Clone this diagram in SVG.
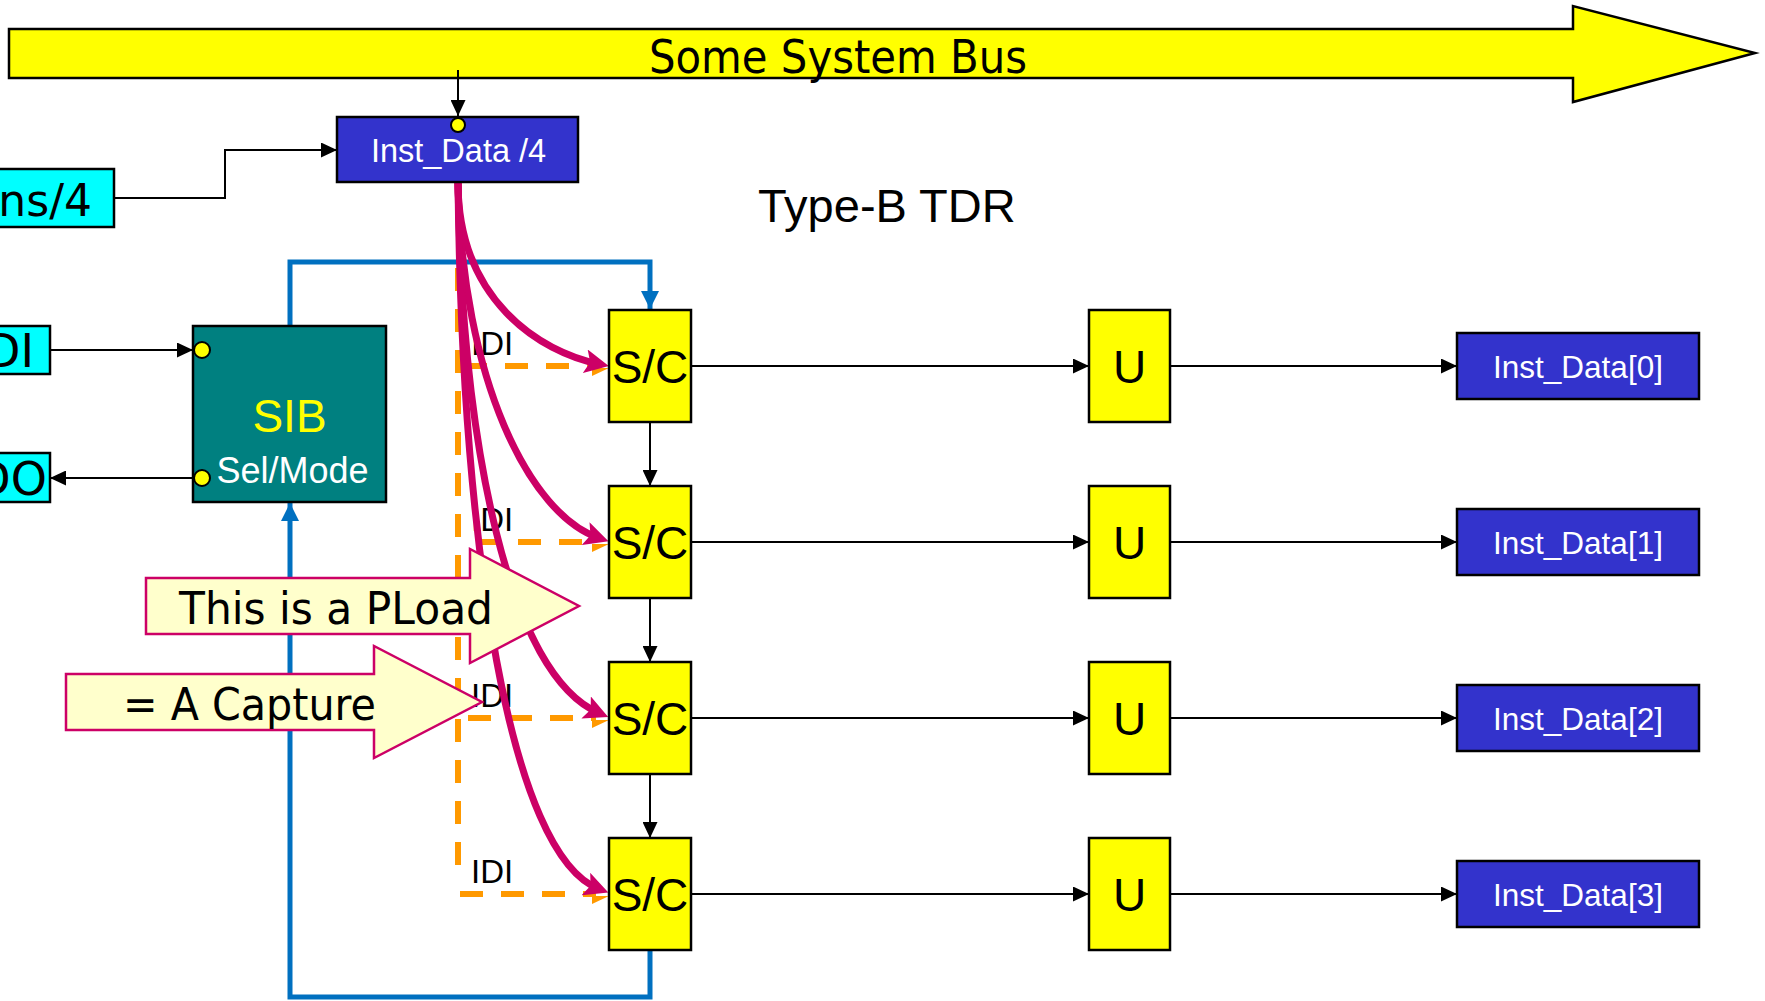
<svg xmlns="http://www.w3.org/2000/svg" width="1765" height="1001" viewBox="0 0 1765 1001">
<style>
.box{stroke:#000;stroke-width:2.5}
.ar{font-family:"Liberation Sans",Arial,sans-serif}
.th{font-family:"DejaVu Sans",Verdana,sans-serif}
.blk{fill:none;stroke:#000;stroke-width:2}
.blu{fill:none;stroke:#0070C0;stroke-width:5}
.mag{fill:none;stroke:#CC0066;stroke-width:7}
.org{fill:none;stroke:#FF9900;stroke-width:6;stroke-dasharray:23 18}
.call{fill:#FFFFCC;stroke:#CC0066;stroke-width:2.5}
.pin{fill:#FFFF00;stroke:#000;stroke-width:2}
</style>
<defs>
<marker id="ab" markerUnits="userSpaceOnUse" viewBox="0 0 16 15" refX="16" refY="7.5" markerWidth="16" markerHeight="15" orient="auto"><path d="M0,0 L16,7.5 L0,15 z" fill="#000"/></marker>
<marker id="abl" markerUnits="userSpaceOnUse" viewBox="0 0 18 18" refX="18" refY="9" markerWidth="18" markerHeight="18" orient="auto"><path d="M0,0 L18,9 L0,18 z" fill="#0070C0"/></marker>
<marker id="am" markerUnits="userSpaceOnUse" viewBox="0 0 24 24" refX="14" refY="12" markerWidth="24" markerHeight="24" orient="auto"><path d="M0,0 L24,12 L0,24 L5,12 z" fill="#CC0066"/></marker>
<marker id="ao" markerUnits="userSpaceOnUse" viewBox="0 0 16 14" refX="16" refY="7" markerWidth="16" markerHeight="14" orient="auto"><path d="M0,0 L16,7 L0,14 z" fill="#FF9900"/></marker>
</defs>
<rect width="1765" height="1001" fill="#fff"/>

<g id="bus">
<polygon points="9,29 1573,29 1573,6 1755,53 1573,102 1573,78 9,78" fill="#FFFF00" stroke="#000" stroke-width="2.5"/>
<text class="th" x="649" y="73" font-size="47" textLength="378" lengthAdjust="spacingAndGlyphs">Some System Bus</text>
</g>

<g id="title"><text class="ar" x="758" y="222" font-size="47">Type-B TDR</text></g>

<g id="connectors">
<path class="blk" d="M458,70 V116" marker-end="url(#ab)"/>
<path class="blk" d="M114,198 H225 V150 H337" marker-end="url(#ab)"/>
<path class="blk" d="M50,350 H193" marker-end="url(#ab)"/>
<path class="blk" d="M193,478 H50" marker-end="url(#ab)"/>
<path class="blu" d="M290,326 V262 H650 V309" marker-end="url(#abl)"/>
<path class="blu" d="M650,950 V997 H290 V503" marker-end="url(#abl)"/>
<path class="blk" d="M650,422 V486" marker-end="url(#ab)"/>
<path class="blk" d="M650,598 V662" marker-end="url(#ab)"/>
<path class="blk" d="M650,774 V838" marker-end="url(#ab)"/>
<path class="blk" d="M691,366 H1089" marker-end="url(#ab)"/>
<path class="blk" d="M691,542 H1089" marker-end="url(#ab)"/>
<path class="blk" d="M691,718 H1089" marker-end="url(#ab)"/>
<path class="blk" d="M691,894 H1089" marker-end="url(#ab)"/>
<path class="blk" d="M1170,366 H1457" marker-end="url(#ab)"/>
<path class="blk" d="M1170,542 H1457" marker-end="url(#ab)"/>
<path class="blk" d="M1170,718 H1457" marker-end="url(#ab)"/>
<path class="blk" d="M1170,894 H1457" marker-end="url(#ab)"/>
<path class="org" d="M458,268 V880"/>
<path class="org" d="M464,366 H596" stroke-dashoffset="0"/>
<path class="org" d="M477,542 H596"/>
<path class="org" d="M468,718 H596"/>
<path class="org" d="M460,894 H596"/>
<g fill="#FF9900">
<path d="M592,368 L609,368 L592,376 z"/>
<path d="M592,544 L609,544 L592,552 z"/>
<path d="M592,720 L609,720 L592,728 z"/>
<path d="M592,896 L609,896 L592,904 z"/>
</g>
<g class="ar" font-size="33" fill="#000">
<text x="471" y="355">IDI</text>
<text x="471" y="531">IDI</text>
<text x="471" y="707">IDI</text>
<text x="471" y="883">IDI</text>
</g>
<path class="mag" d="M458,182 C458,300 540,352 599,364" marker-end="url(#am)"/>
<path class="mag" d="M458,182 C462,380 530,515 599,538" marker-end="url(#am)"/>
<path class="mag" d="M458,182 C462,450 510,675 599,713" marker-end="url(#am)"/>
<path class="mag" d="M458,182 C462,550 510,855 599,889" marker-end="url(#am)"/>
</g>

<g id="ins4">
<rect x="-10" y="169" width="124" height="58" fill="#00FFFF" class="box"/>
<text class="th" x="92" y="216" font-size="44" text-anchor="end">ns/4</text>
</g>
<g id="tdi">
<rect x="-10" y="326" width="60" height="48" fill="#00FFFF" class="box"/>
<text class="th" x="34" y="367" font-size="46" text-anchor="end">DI</text>
</g>
<g id="tdo">
<rect x="-10" y="453" width="60" height="49" fill="#00FFFF" class="box"/>
<text class="th" x="47" y="495" font-size="46" text-anchor="end">DO</text>
</g>

<g id="inst_data4">
<rect x="337" y="117" width="241" height="65" fill="#3333CC" class="box"/>
<text class="ar" x="458.5" y="162" font-size="32.5" fill="#fff" text-anchor="middle">Inst_Data /4</text>
<circle class="pin" cx="458" cy="125" r="7"/>
</g>

<g id="sib">
<rect x="193" y="326" width="193" height="176" fill="#008080" class="box"/>
<text class="ar" x="289.5" y="432" font-size="46" fill="#FFFF00" text-anchor="middle">SIB</text>
<text class="ar" x="292.5" y="483" font-size="36" fill="#fff" text-anchor="middle">Sel/Mode</text>
<circle class="pin" cx="202" cy="350" r="8"/>
<circle class="pin" cx="202" cy="478" r="8"/>
</g>

<g id="sc0"><rect x="609" y="310" width="82" height="112" fill="#FFFF00" class="box"/><text class="ar" x="650" y="383" font-size="46" text-anchor="middle">S/C</text></g>
<g id="sc1"><rect x="609" y="486" width="82" height="112" fill="#FFFF00" class="box"/><text class="ar" x="650" y="559" font-size="46" text-anchor="middle">S/C</text></g>
<g id="sc2"><rect x="609" y="662" width="82" height="112" fill="#FFFF00" class="box"/><text class="ar" x="650" y="735" font-size="46" text-anchor="middle">S/C</text></g>
<g id="sc3"><rect x="609" y="838" width="82" height="112" fill="#FFFF00" class="box"/><text class="ar" x="650" y="911" font-size="46" text-anchor="middle">S/C</text></g>

<g id="u0"><rect x="1089" y="310" width="81" height="112" fill="#FFFF00" class="box"/><text class="ar" x="1129.5" y="383" font-size="46" text-anchor="middle">U</text></g>
<g id="u1"><rect x="1089" y="486" width="81" height="112" fill="#FFFF00" class="box"/><text class="ar" x="1129.5" y="559" font-size="46" text-anchor="middle">U</text></g>
<g id="u2"><rect x="1089" y="662" width="81" height="112" fill="#FFFF00" class="box"/><text class="ar" x="1129.5" y="735" font-size="46" text-anchor="middle">U</text></g>
<g id="u3"><rect x="1089" y="838" width="81" height="112" fill="#FFFF00" class="box"/><text class="ar" x="1129.5" y="911" font-size="46" text-anchor="middle">U</text></g>

<g id="out0"><rect x="1457" y="333" width="242" height="66" fill="#3333CC" class="box"/><text class="ar" x="1578" y="378" font-size="31.5" fill="#fff" text-anchor="middle">Inst_Data[0]</text></g>
<g id="out1"><rect x="1457" y="509" width="242" height="66" fill="#3333CC" class="box"/><text class="ar" x="1578" y="554" font-size="31.5" fill="#fff" text-anchor="middle">Inst_Data[1]</text></g>
<g id="out2"><rect x="1457" y="685" width="242" height="66" fill="#3333CC" class="box"/><text class="ar" x="1578" y="730" font-size="31.5" fill="#fff" text-anchor="middle">Inst_Data[2]</text></g>
<g id="out3"><rect x="1457" y="861" width="242" height="66" fill="#3333CC" class="box"/><text class="ar" x="1578" y="906" font-size="31.5" fill="#fff" text-anchor="middle">Inst_Data[3]</text></g>

<g id="callout_pload">
<polygon class="call" points="146,578 470,578 470,549 579,606 470,663 470,634 146,634"/>
<text class="th" x="179" y="624" font-size="45" textLength="314" lengthAdjust="spacingAndGlyphs">This is a PLoad</text>
</g>
<g id="callout_capture">
<polygon class="call" points="66,674 374,674 374,646 482,702 374,758 374,730 66,730"/>
<text class="th" x="123" y="720" font-size="45" textLength="253" lengthAdjust="spacingAndGlyphs">= A Capture</text>
</g>
</svg>
